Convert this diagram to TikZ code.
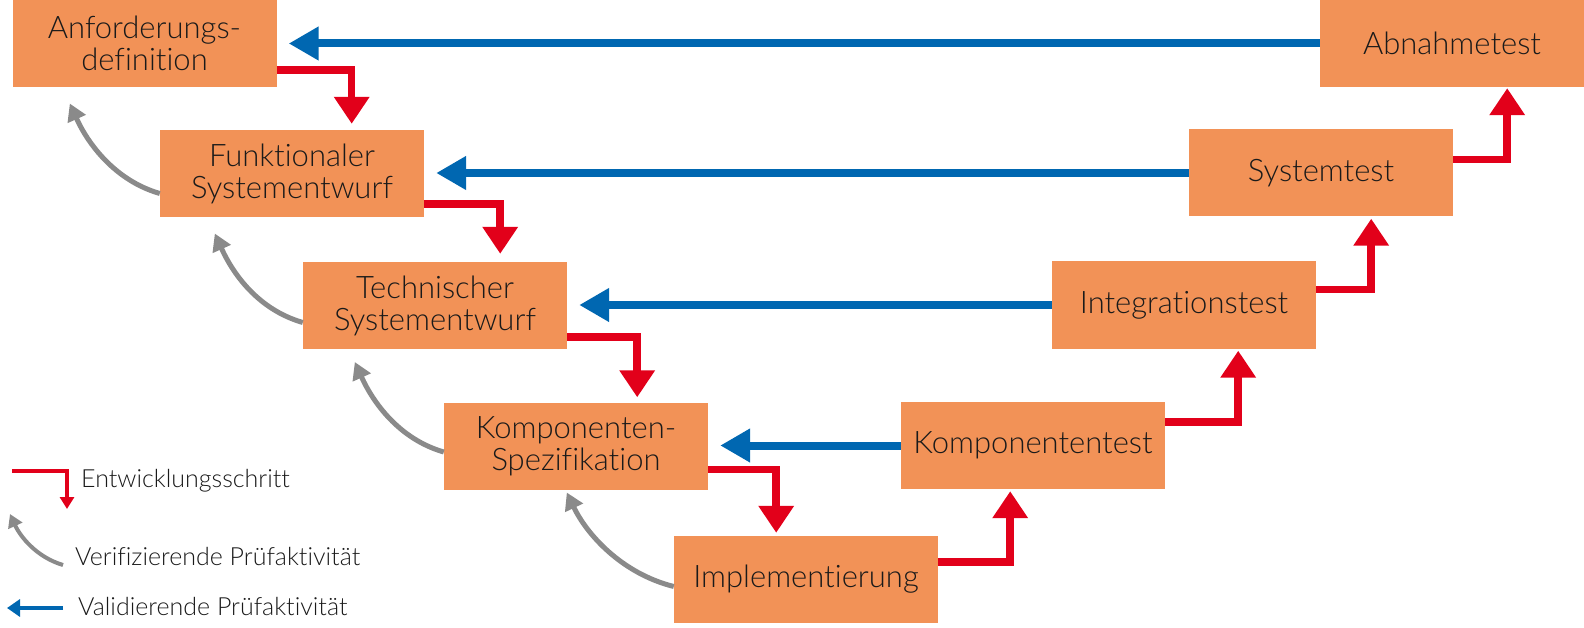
\documentclass[tikz,border=0pt]{standalone}
\usepackage{fontspec}
\IfFontExistsTF{Lato Light}{\setmainfont{Lato Light}[Ligatures=NoCommon]}{\setmainfont{Lato}[Ligatures=NoCommon]}
\usetikzlibrary{arrows.meta,calc}
\definecolor{boxorange}{RGB}{242,146,87}
\definecolor{stepred}{RGB}{226,0,26}
\definecolor{valblue}{RGB}{0,103,177}
\definecolor{verigrey}{RGB}{138,138,138}
\definecolor{txt}{RGB}{26,26,26}
\begin{document}
\begin{tikzpicture}[x=1pt,y=-1pt,
  box/.style={fill=boxorange, minimum width=264pt, minimum height=87pt, inner sep=0pt,
    align=center, text=txt, font=\fontsize{31}{32}\selectfont},
  bluearr/.style={draw=valblue, line width=8pt, -{Triangle[length=30pt,width=32pt]}, shorten >=12pt},
  redarr/.style={draw=stepred, line width=7.5pt, line join=miter, -{Triangle[length=27pt,width=34pt]}},
  greyarr/.style={draw=verigrey, line width=5pt, -{Triangle[length=17pt,width=19pt]}},
  legtext/.style={anchor=west, text=txt, inner sep=0pt, font=\fontsize{25}{28}\selectfont}]
\useasboundingbox (0,0) rectangle (1584,628);

\node[box] (A) at (144.5,43.5) {Anforderungs-\\definition};
\node[box] (F) at (292,173.5) {Funktionaler\\Systementwurf};
\node[box] (T) at (435,305.5) {Technischer\\Systementwurf};
\node[box] (K) at (576,446) {Komponenten-\\Spezifikation};
\node[box] (I) at (806,579.5) {Implementierung};
\node[box] (KT) at (1033,445.5) {Komponententest};
\node[box] (IT) at (1184,305) {Integrationstest};
\node[box] (ST) at (1321,173) {Systemtest};
\node[box] (AT) at (1452,43.5) {Abnahmetest};

% validation (blue)
\draw[bluearr] (AT.west) -- (AT.west -| A.east);
\draw[bluearr] (ST.west) -- (ST.west -| F.east);
\draw[bluearr] (IT.west) -- (IT.west -| T.east);
\draw[bluearr] (KT.west) -- (KT.west -| K.east);

% development steps (red)
\draw[redarr] ([yshift=17pt]A.south east) -| ($(A.east |- F.north)+(75pt,6pt)$);
\draw[redarr] ([yshift=13pt]F.south east) -| ($(F.east |- T.north)+(76pt,8pt)$);
\draw[redarr] ([yshift=12pt]T.south east) -| ($(T.east |- K.north)+(70pt,5pt)$);
\draw[redarr] ([yshift=20pt]K.south east) -| ($(K.east |- I.north)+(68pt,3pt)$);
\draw[redarr] ([yshift=-26pt]I.north east) -| ($(I.east |- KT.south)+(72pt,-2pt)$);
\draw[redarr] ([yshift=-20pt]KT.north east) -| ($(KT.east |- IT.south)+(73pt,-2pt)$);
\draw[redarr] ([yshift=-28pt]IT.north east) -| ($(IT.east |- ST.south)+(55pt,-2pt)$);
\draw[redarr] ([yshift=-30pt]ST.north east) -| ($(ST.east |- AT.south)+(54pt,-1pt)$);

% verification (grey)
\draw[greyarr] ([yshift=-20pt]F.west) .. controls +(-45pt,13pt) and +(18pt,-40pt) .. ($(F.west)+(-90pt,70pt)$);
\draw[greyarr] ([yshift=-17pt]T.west) .. controls +(-45pt,13pt) and +(18pt,-40pt) .. ($(T.west)+(-88pt,72pt)$);
\draw[greyarr] ([yshift=-6pt]K.west) .. controls +(-45pt,13pt) and +(18pt,-40pt) .. ($(K.west)+(-89pt,84pt)$);
\draw[greyarr] ([yshift=-7pt]I.west) .. controls +(-52pt,13pt) and +(20pt,-42pt) .. ($(I.west)+(-107pt,87pt)$);

% legend
\draw[draw=stepred, line width=4.5pt, line join=miter, -{Triangle[length=12pt,width=14pt]}] (12,471) -| (67,509);
\node[legtext] (L1) at (81,481) {Entwicklungsschritt};
\draw[draw=verigrey, line width=4pt, -{Triangle[length=13pt,width=15pt]}] (63,565) .. controls +(-27pt,8pt) and +(10pt,-22pt) .. (10,514);
\node[legtext] (L2) at (75,557) {Verifizierende Prüfaktivität};
\draw[draw=valblue, line width=4.5pt, -{Triangle[length=13pt,width=17pt]}] (63,608) -- (7,608);
\node[legtext] (L3) at (78,607) {Validierende Prüfaktivität};
\end{tikzpicture}
\end{document}
